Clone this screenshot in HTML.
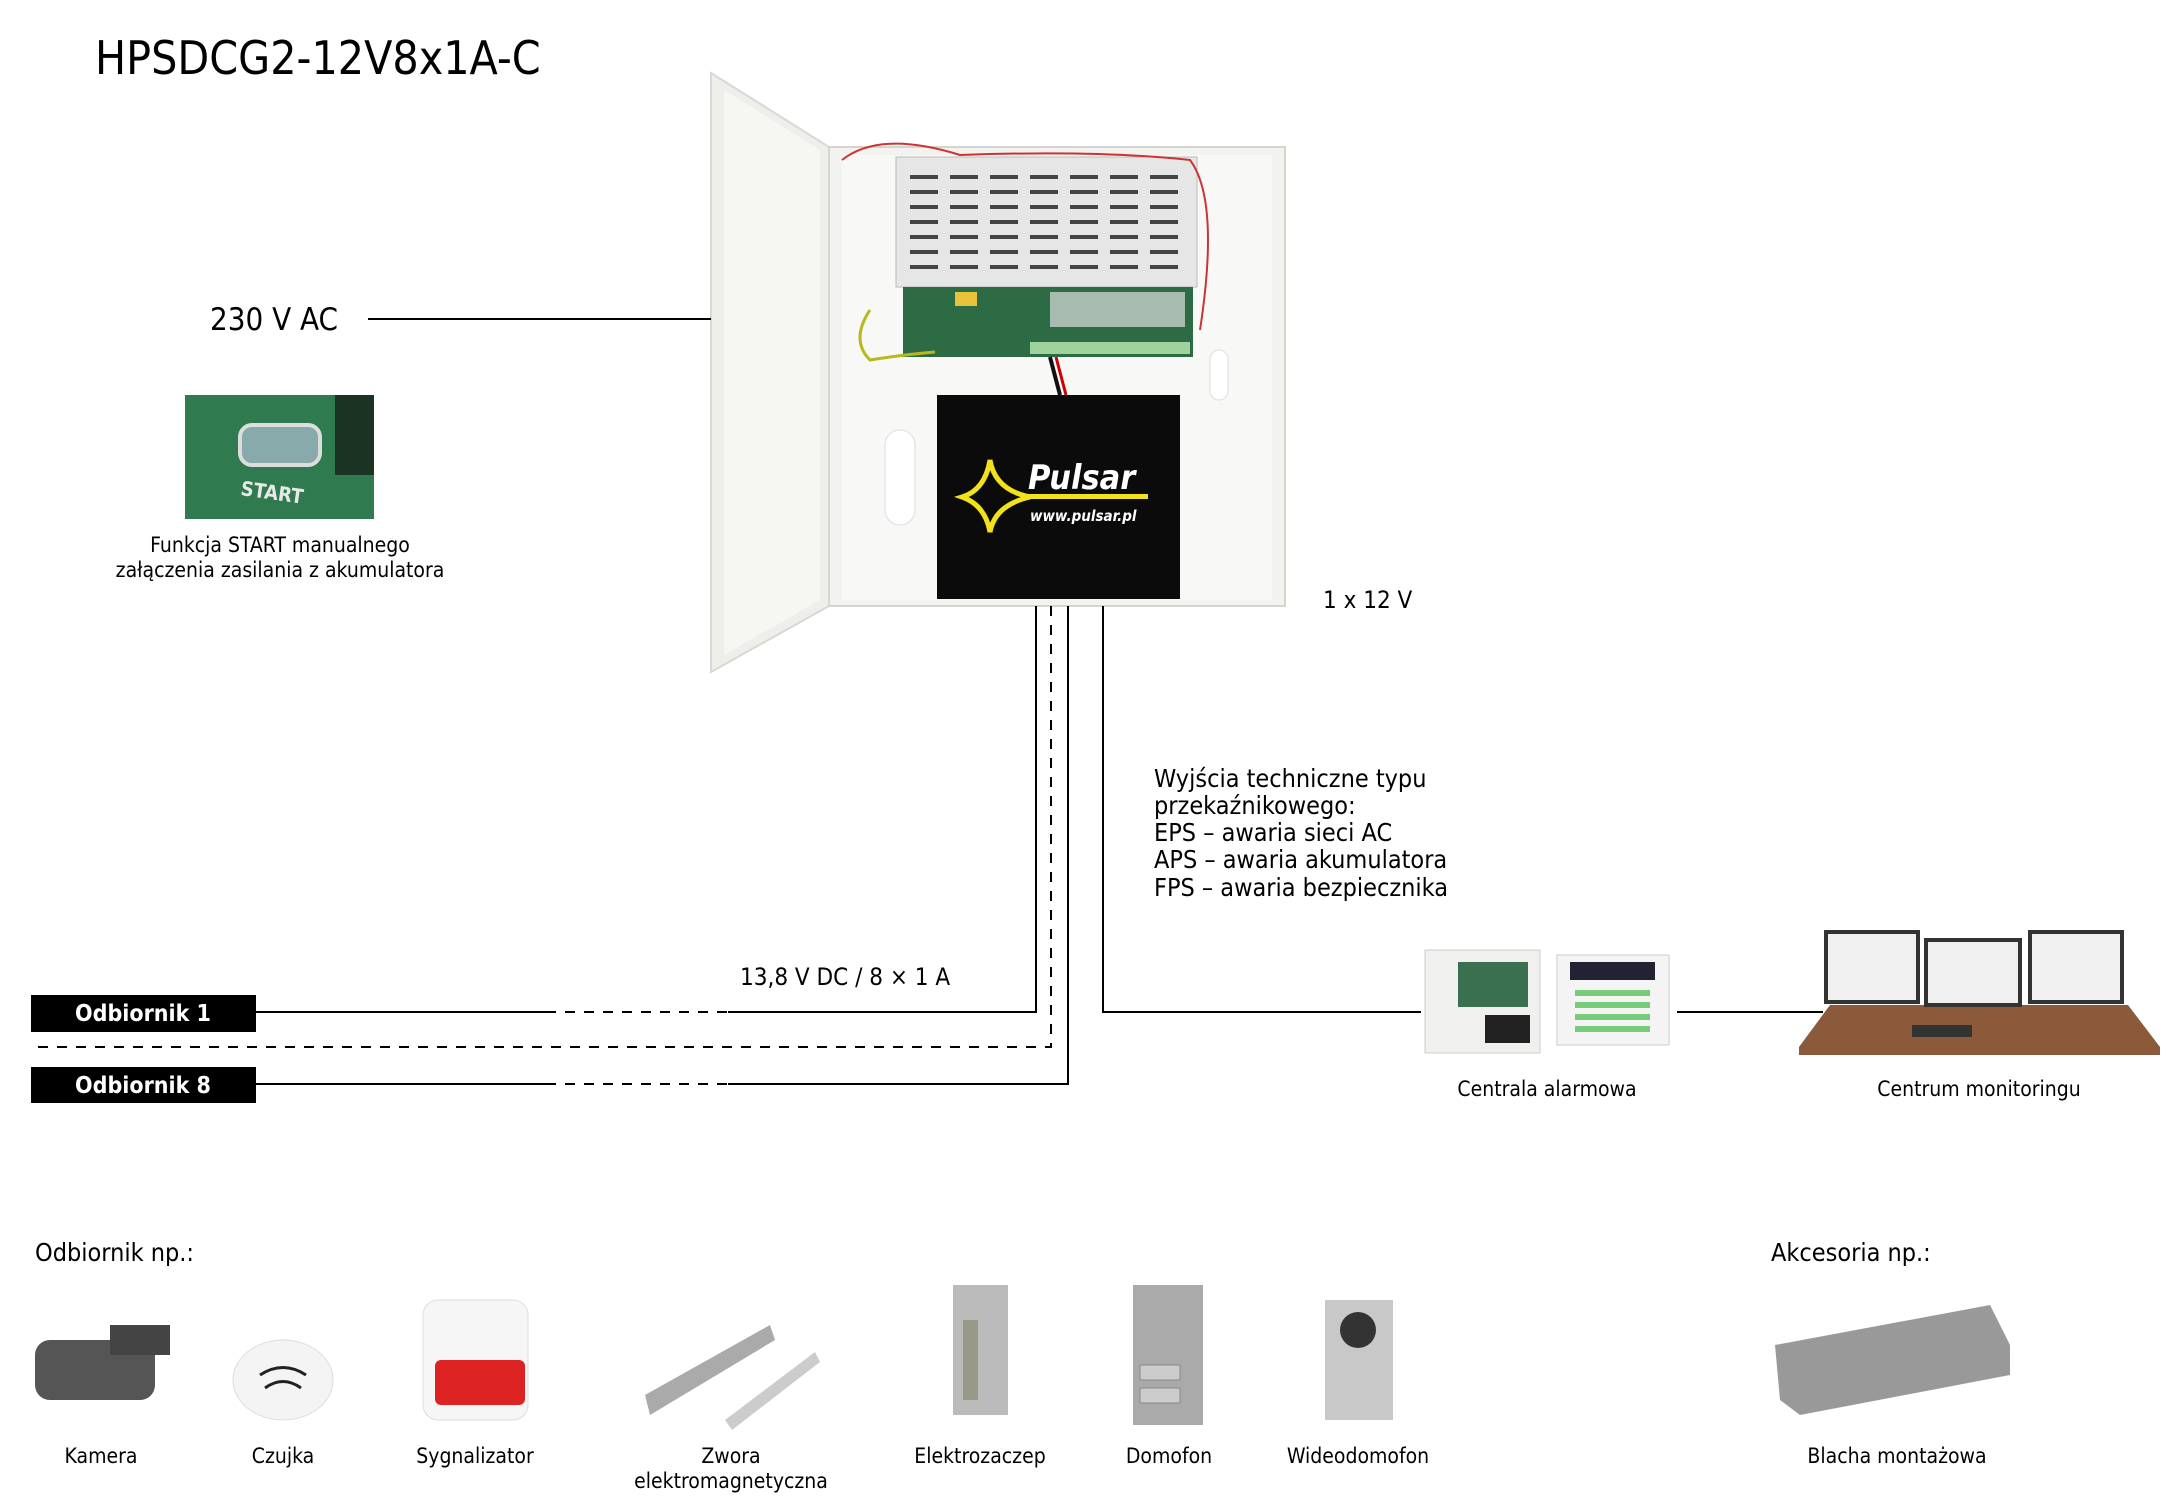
<!DOCTYPE html>
<html><head><meta charset="utf-8"><style>
body{margin:0;background:#fff;}
svg{display:block;font-family:"DejaVu Sans Condensed","DejaVu Sans","Liberation Sans",sans-serif;font-stretch:condensed;}
</style></head><body>
<svg width="2183" height="1497" viewBox="0 0 2183 1497" xmlns="http://www.w3.org/2000/svg">
<text x="95" y="74" font-size="46" fill="#000">HPSDCG2-12V8x1A-C</text>

<!-- enclosure -->
<polygon points="711,73 829,147 829,606 711,672" fill="#eeeeea" stroke="#d8d8d4" stroke-width="2"/>
<polygon points="724,90 820,150 820,600 724,655" fill="#f6f6f3"/>
<rect x="829" y="147" width="456" height="459" fill="#f2f2ef" stroke="#d4d4d0" stroke-width="2"/>
<rect x="842" y="155" width="430" height="445" fill="#f8f8f6"/>
<rect x="885" y="430" width="30" height="95" rx="15" fill="#fff" stroke="#ddd"/>
<rect x="1210" y="350" width="18" height="50" rx="9" fill="#fff" stroke="#ddd"/>
<!-- PSU cover -->
<rect x="896" y="157" width="301" height="130" fill="#e6e6e6" stroke="#bbb"/>
<g fill="#444">
<rect x="910" y="175" width="268" height="4"/><rect x="910" y="190" width="268" height="4"/><rect x="910" y="205" width="268" height="4"/><rect x="910" y="220" width="268" height="4"/><rect x="910" y="235" width="268" height="4"/><rect x="910" y="250" width="268" height="4"/><rect x="910" y="265" width="268" height="4"/>
</g>
<g fill="#e6e6e6">
<rect x="938" y="170" width="12" height="105"/><rect x="978" y="170" width="12" height="105"/><rect x="1018" y="170" width="12" height="105"/><rect x="1058" y="170" width="12" height="105"/><rect x="1098" y="170" width="12" height="105"/><rect x="1138" y="170" width="12" height="105"/>
</g>
<path d="M842,160 Q880,130 960,155 Q1100,150 1190,160 Q1220,200 1200,330" fill="none" stroke="#c33" stroke-width="2"/>
<!-- PCB -->
<rect x="903" y="287" width="290" height="70" fill="#2d6b45"/>
<rect x="1050" y="292" width="135" height="35" fill="#ddd" opacity=".7"/>
<rect x="1030" y="342" width="160" height="12" fill="#9ed39e"/>
<rect x="955" y="292" width="22" height="14" fill="#e8c23a"/>
<path d="M870,310 Q850,340 870,360 Q900,355 935,352" fill="none" stroke="#b8b820" stroke-width="3"/>
<path d="M1050,357 L1060,395" stroke="#111" stroke-width="4"/><path d="M1056,357 L1066,395" stroke="#c00" stroke-width="3"/>
<!-- battery -->
<rect x="937" y="395" width="243" height="204" fill="#0b0b0b"/>
<path d="M990,460 Q995,490 1030,497 Q995,505 990,532 Q985,505 962,497 Q985,490 990,460Z" fill="none" stroke="#f2e21a" stroke-width="5"/>
<rect x="1028" y="494" width="120" height="5" fill="#f2e21a"/>
<text x="1028" y="489" font-size="34" font-weight="bold" font-style="italic" fill="#fff">Pulsar</text>
<text x="1030" y="521" font-size="15" font-weight="bold" font-style="italic" fill="#fff">www.pulsar.pl</text>

<!-- 230 V AC -->
<text x="210" y="330" font-size="31" fill="#000">230 V AC</text>
<line x1="368" y1="319" x2="711" y2="319" stroke="#000" stroke-width="2"/>
<!-- start image -->
<rect x="185" y="395" width="189" height="124" fill="#2f7a4f"/>
<rect x="240" y="425" width="80" height="40" rx="12" fill="#8aa" stroke="#ddd" stroke-width="4"/>
<rect x="335" y="395" width="39" height="80" fill="#1b3323"/>
<text x="240" y="495" font-size="20" fill="#e8e8e8" font-weight="bold" transform="rotate(8 240 495)">START</text>
<text x="280" y="552" font-size="21" text-anchor="middle" fill="#000">Funkcja START manualnego</text>
<text x="280" y="577" font-size="21" text-anchor="middle" fill="#000">załączenia zasilania z akumulatora</text>

<text x="1323" y="608" font-size="24" fill="#000">1 x 12 V</text>

<!-- connectors -->
<g stroke="#000" stroke-width="2" fill="none">
<polyline points="1036,606 1036,1012 728,1012"/>
<line x1="546" y1="1012" x2="256" y2="1012"/>
<line x1="546" y1="1012" x2="728" y2="1012" stroke-dasharray="10,9"/>
<polyline points="1051,606 1051,1047 31,1047" stroke-dasharray="10,9"/>
<polyline points="1068,606 1068,1084 728,1084"/>
<line x1="546" y1="1084" x2="256" y2="1084"/>
<line x1="546" y1="1084" x2="728" y2="1084" stroke-dasharray="10,9"/>
<polyline points="1103,606 1103,1012 1421,1012"/>
<line x1="1677" y1="1012" x2="1823" y2="1012"/>
</g>
<rect x="31" y="995" width="225" height="37" fill="#000"/>
<text x="143" y="1021" font-size="23" font-weight="bold" fill="#fff" text-anchor="middle">Odbiornik 1</text>
<rect x="31" y="1067" width="225" height="36" fill="#000"/>
<text x="143" y="1093" font-size="23" font-weight="bold" fill="#fff" text-anchor="middle">Odbiornik 8</text>
<text x="740" y="985" font-size="24" fill="#000">13,8 V DC / 8 × 1 A</text>

<g font-size="25" fill="#000">
<text x="1154" y="787">Wyjścia techniczne typu</text>
<text x="1154" y="814">przekaźnikowego:</text>
<text x="1154" y="841">EPS – awaria sieci AC</text>
<text x="1154" y="868">APS – awaria akumulatora</text>
<text x="1154" y="896">FPS – awaria bezpiecznika</text>
</g>

<!-- alarm -->
<rect x="1425" y="950" width="115" height="103" fill="#f0f0ee" stroke="#ccc"/>
<rect x="1458" y="962" width="70" height="45" fill="#3a7050"/>
<rect x="1485" y="1015" width="45" height="28" fill="#222"/>
<rect x="1557" y="955" width="112" height="90" fill="#f4f4f4" stroke="#ccc"/>
<rect x="1570" y="962" width="85" height="18" fill="#223"/>
<g fill="#7c7"><rect x="1575" y="990" width="75" height="6"/><rect x="1575" y="1002" width="75" height="6"/><rect x="1575" y="1014" width="75" height="6"/><rect x="1575" y="1026" width="75" height="6"/></g>
<text x="1547" y="1096" font-size="21" text-anchor="middle">Centrala alarmowa</text>
<!-- monitoring -->
<polygon points="1799,1055 2160,1055 2160,1047 2128,1005 1830,1005 1799,1047" fill="#8a5a3a"/>
<g fill="#f0f0f0" stroke="#333" stroke-width="4">
<rect x="1826" y="932" width="92" height="70"/><rect x="1926" y="940" width="94" height="65"/><rect x="2030" y="932" width="92" height="70"/>
</g>
<rect x="1912" y="1025" width="60" height="12" fill="#333"/>
<text x="1979" y="1096" font-size="21" text-anchor="middle">Centrum monitoringu</text>

<text x="35" y="1261" font-size="25">Odbiornik np.:</text>
<text x="1771" y="1261" font-size="25">Akcesoria np.:</text>

<!-- devices -->
<rect x="35" y="1340" width="120" height="60" rx="15" fill="#555"/><rect x="110" y="1325" width="60" height="30" fill="#444"/>
<ellipse cx="283" cy="1380" rx="50" ry="40" fill="#f4f4f4" stroke="#ddd"/>
<path d="M260,1375 Q283,1360 306,1375 M265,1388 Q283,1375 301,1388" stroke="#222" stroke-width="3" fill="none"/>
<rect x="423" y="1300" width="105" height="120" rx="15" fill="#f6f6f6" stroke="#ddd"/>
<rect x="435" y="1360" width="90" height="45" rx="6" fill="#d22"/>
<polygon points="645,1395 770,1325 775,1340 650,1415" fill="#aaa"/>
<polygon points="725,1420 815,1352 820,1362 732,1430" fill="#ccc"/>
<rect x="953" y="1285" width="55" height="130" fill="#bbb"/><rect x="963" y="1320" width="15" height="80" fill="#998"/>
<rect x="1133" y="1285" width="70" height="140" fill="#aaa"/><rect x="1140" y="1365" width="40" height="15" fill="#ccc" stroke="#888"/><rect x="1140" y="1388" width="40" height="15" fill="#ccc" stroke="#888"/>
<rect x="1325" y="1300" width="68" height="120" fill="#c8c8c8"/><circle cx="1358" cy="1330" r="18" fill="#333"/>
<polygon points="1775,1345 1990,1305 2010,1345 2010,1375 1800,1415 1780,1400" fill="#999"/>

<g font-size="21" text-anchor="middle">
<text x="101" y="1463">Kamera</text>
<text x="283" y="1463">Czujka</text>
<text x="475" y="1463">Sygnalizator</text>
<text x="731" y="1463">Zwora</text>
<text x="731" y="1488">elektromagnetyczna</text>
<text x="980" y="1463">Elektrozaczep</text>
<text x="1169" y="1463">Domofon</text>
<text x="1358" y="1463">Wideodomofon</text>
<text x="1897" y="1463">Blacha montażowa</text>
</g>
</svg>
</body></html>
